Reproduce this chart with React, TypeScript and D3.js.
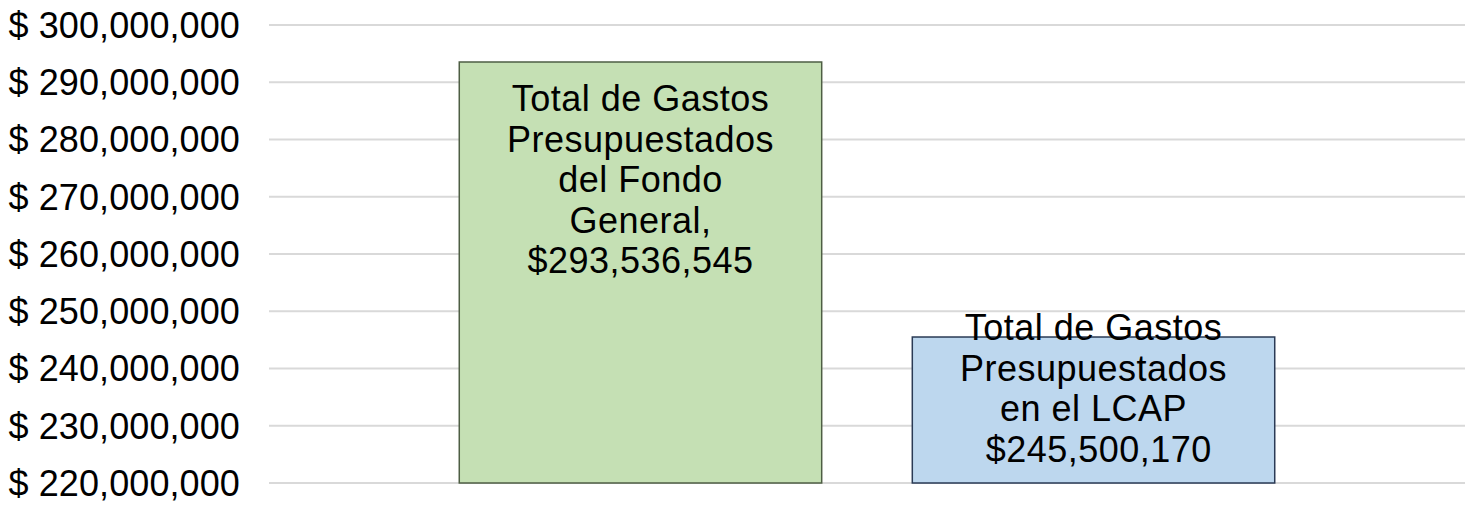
import React from "react";
import * as d3 from "d3";

const categories = ["Fondo General", "LCAP"];
const values = [293536545, 245500170];
const labelLines = [
  ["Total de Gastos", "Presupuestados", "del Fondo", "General,", "$293,536,545"],
  ["Total de Gastos", "Presupuestados", "en el LCAP", " $245,500,170"],
];
const yTicks = [220000000, 230000000, 240000000, 250000000, 260000000, 270000000, 280000000, 290000000, 300000000];

const fills = ["#C5E0B4", "#BDD7EE"];
const strokes = ["#4E5E44", "#2A3A55"];
const labelOffsets = [49, 3];

const W = 1474;
const H = 506;

export default function App() {
  const x = d3.scaleBand<string>().domain(categories).range([269, 1465]).paddingInner(0.2).paddingOuter(0.42);
  const y = d3.scaleLinear().domain([220000000, 300000000]).range([483, 25]);
  const fmt = (v: number) => "$ " + d3.format(",")(v);
  const font = "'Liberation Sans', Arial, sans-serif";
  return (
    <svg width={W} height={H} style={{ position: "absolute", left: 0, top: 0, background: "#fff" }}>
      {yTicks.map((t) => (
        <g key={t}>
          <line x1={269} x2={1465} y1={y(t)} y2={y(t)} stroke="#D9D9D9" strokeWidth={2} />
          <text x={240} y={y(t)} dy="0.36em" textAnchor="end" fontFamily={font} fontSize={36} letterSpacing={0.1} fill="#000">
            {fmt(t)}
          </text>
        </g>
      ))}
      {categories.map((c, i) => (
        <rect
          key={c}
          x={x(c)}
          y={y(values[i])}
          width={x.bandwidth()}
          height={y(220000000) - y(values[i])}
          fill={fills[i]}
          stroke={strokes[i]}
          strokeWidth={1.5}
        />
      ))}
      {categories.map((c, i) => (
        <text
          key={c + "-l"}
          x={(x(c) as number) + x.bandwidth() / 2}
          y={y(values[i]) + labelOffsets[i]}
          textAnchor="middle"
          fontFamily={font}
          fontSize={36}
          letterSpacing={0.5}
          fill="#000"
          style={{ whiteSpace: "pre" }}
        >
          {labelLines[i].map((l, j) => (
            <tspan key={j} x={(x(c) as number) + x.bandwidth() / 2} dy={j === 0 ? 0 : 40.5}>
              {l}
            </tspan>
          ))}
        </text>
      ))}
    </svg>
  );
}
